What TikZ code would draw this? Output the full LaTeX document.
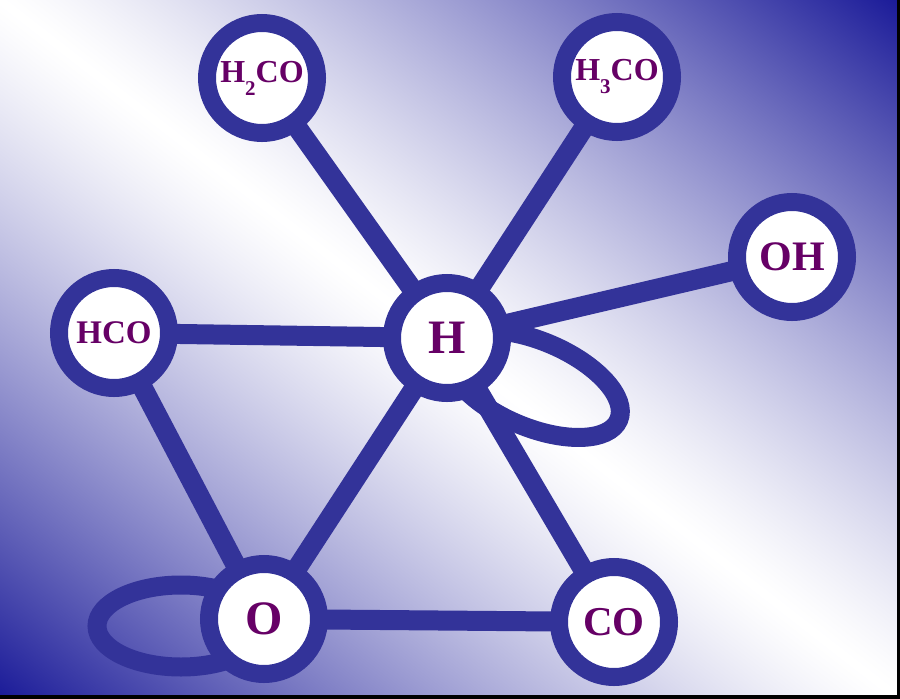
\documentclass[tikz,border=0pt]{standalone}
\usepackage{fontspec}
\setmainfont{Liberation Serif}
\definecolor{ring}{RGB}{51,51,153}
\definecolor{lab}{RGB}{102,0,102}
\pgfdeclarefunctionalshading{bgfun}{\pgfpointorigin}{\pgfpoint{100bp}{100bp}}{}{
  25 sub 50 div exch 25 sub 50 div add 1 sub abs 1.25 exp
  dup 0.898 mul 1 exch sub exch
  dup 0.898 mul 1 exch sub exch
  0.404 mul 1 exch sub
}
\newcommand{\sz}[1]{\fontsize{#1}{#1}\selectfont}
\newcommand{\sub}[1]{\raisebox{-13pt}{\sz{21}#1}}
\begin{document}
\begin{tikzpicture}[x=1pt,y=-1pt,
  mol/.style={circle, draw=ring, line width=18pt, fill=white,
    minimum size=110pt, inner sep=0pt, text=lab, font=\bfseries},
  bond/.style={draw=ring, line width=20pt},
  loopline/.style={draw=ring, line width=19pt}]
\useasboundingbox (0,0) rectangle (900,699);
% background gradient
\shade[shading=bgfun] (0,0) rectangle (900,699);
\fill[black] (897,0) rectangle (900,699);
\fill[black] (0,695) rectangle (900,699);
% node positions
\coordinate (pH2CO) at (262,78);
\coordinate (pH3CO) at (617,77);
\coordinate (pOH) at (792,257);
\coordinate (pHCO) at (114,333);
\coordinate (pH) at (447,338);
\coordinate (pO) at (264,619);
\coordinate (pCO) at (614,622);
% self loops
\draw[loopline, rotate around={-23:(534,384)}] (534,384) ellipse [x radius=92, y radius=43];
\draw[loopline] (181,626) ellipse [x radius=84, y radius=41];
% bonds
\draw[bond] (pH) -- (pH2CO);
\draw[bond] (pH) -- (pH3CO);
\draw[bond] (pH) -- (pOH);
\draw[bond] (pH) -- (pHCO);
\draw[bond] (pH) -- (pO);
\draw[bond] (pH) -- (pCO);
\draw[bond] (pHCO) -- (pO);
\draw[bond] (pO) -- (pCO);
% nodes
\node[mol] (H2CO) at (pH2CO) {\sz{32}H\sub{2}CO};
\node[mol] (H3CO) at (pH3CO) {\sz{32}H\sub{3}CO};
\node[mol] (OH) at (pOH) {\sz{42}OH};
\node[mol] (HCO) at (pHCO) {\sz{33}HCO};
\node[mol] (H) at (pH) {\sz{48}H};
\node[mol] (O) at (pO) {\sz{48}O};
\node[mol] (CO) at (pCO) {\sz{41}CO};
\end{tikzpicture}
\end{document}
